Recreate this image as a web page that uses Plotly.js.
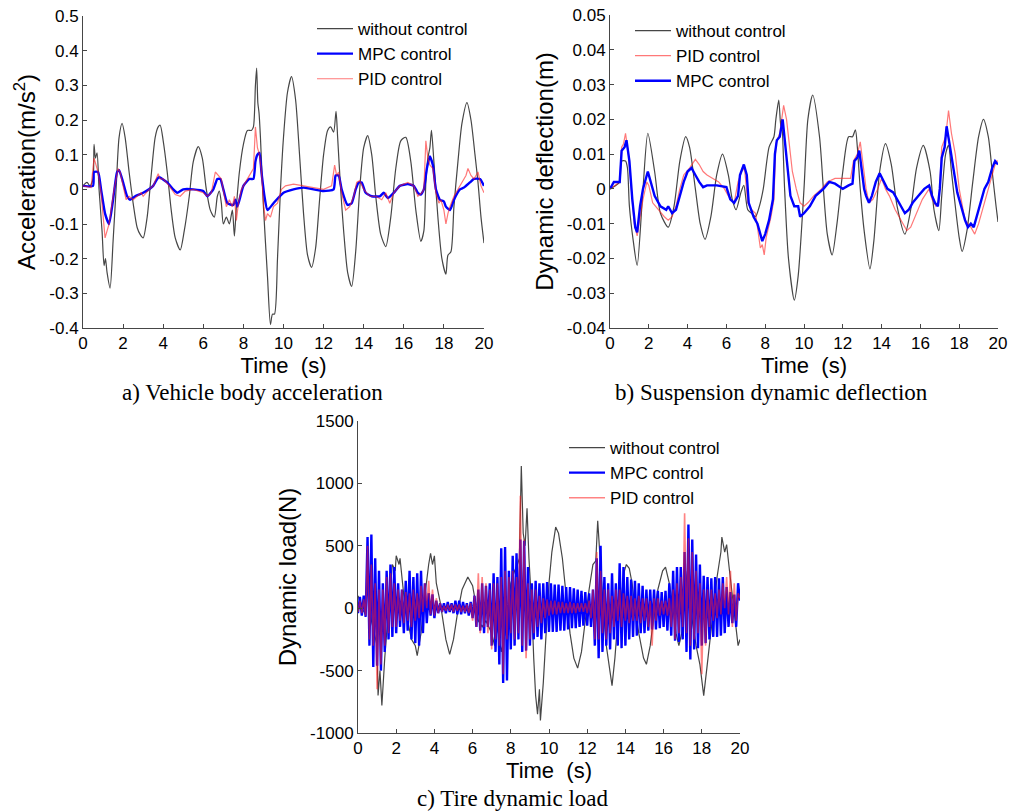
<!DOCTYPE html>
<html>
<head>
<meta charset="utf-8">
<script src="https://cdn.plot.ly/plotly-3.0.1.min.js"></script>
<style>html,body{margin:0;padding:0;background:#fff;}#chart{width:1014px;height:812px;}</style>
</head>
<body>
<div id="chart"></div>
<script>
// ---------- tick labels ----------
const xTicks = [0, 2, 4, 6, 8, 10, 12, 14, 16, 18, 20];
const xTickText = ['0', '2', '4', '6', '8', '10', '12', '14', '16', '18', '20'];
const accTicks = [0.5, 0.4, 0.3, 0.2, 0.1, 0, -0.1, -0.2, -0.3, -0.4];
const accTickText = ['0.5', '0.4', '0.3', '0.2', '0.1', '0', '-0.1', '-0.2', '-0.3', '-0.4'];
const defTicks = [0.05, 0.04, 0.03, 0.02, 0.01, 0, -0.01, -0.02, -0.03, -0.04];
const defTickText = ['0.05', '0.04', '0.03', '0.02', '0.01', '0', '-0.01', '-0.02', '-0.03', '-0.04'];
const loadTicks = [1500, 1000, 500, 0, -500, -1000];
const loadTickText = ['1500', '1000', '500', '0', '-500', '-1000'];

// ---------- a) vehicle body acceleration ----------
const accNoneT = [0,0.2,0.35,0.5,0.55,0.62,0.7,0.8,0.95,1.05,1.12,1.2,1.35,1.5,1.65,1.8,1.95,2.1,2.3,2.5,2.7,2.85,3.0,3.2,3.4,3.6,3.75,3.85,4.0,4.2,4.4,4.6,4.85,5.05,5.3,5.5,5.75,5.95,6.15,6.35,6.55,6.7,6.8,6.9,7.0,7.15,7.3,7.45,7.55,7.65,7.8,8.0,8.2,8.4,8.5,8.6,8.66,8.72,8.78,8.85,9.0,9.2,9.35,9.45,9.55,9.7,9.85,10.0,10.2,10.4,10.6,10.8,11.0,11.2,11.4,11.6,11.8,12.0,12.2,12.35,12.5,12.62,12.7,12.85,13.0,13.2,13.4,13.6,13.8,14.0,14.2,14.4,14.6,14.85,15.1,15.35,15.6,15.85,16.1,16.35,16.6,16.85,17.0,17.1,17.2,17.3,17.38,17.5,17.7,17.9,18.1,18.2,18.35,18.5,18.7,18.9,19.15,19.35,19.55,19.7,19.85,20.0];
const accNone = [0.01,0.02,0.01,0.03,0.13,0.09,0.105,0.0,-0.12,-0.22,-0.2,-0.24,-0.285,-0.15,0.0,0.15,0.19,0.15,0.05,-0.04,-0.11,-0.13,-0.14,-0.08,0.04,0.15,0.18,0.185,0.14,0.05,-0.06,-0.14,-0.175,-0.12,-0.02,0.08,0.123,0.09,0.0,-0.06,-0.08,-0.02,-0.005,-0.04,-0.1,-0.08,-0.1,-0.06,-0.135,-0.05,0.05,0.13,0.17,0.17,0.18,0.3,0.35,0.25,0.22,0.15,-0.05,-0.25,-0.39,-0.36,-0.36,-0.2,0.0,0.15,0.28,0.325,0.26,0.1,-0.07,-0.19,-0.225,-0.17,-0.03,0.1,0.17,0.18,0.165,0.225,0.15,0.0,-0.12,-0.24,-0.28,-0.18,0.0,0.12,0.155,0.1,-0.02,-0.13,-0.165,-0.08,0.06,0.14,0.15,0.08,-0.06,-0.15,-0.12,0.02,0.09,0.12,0.17,0.08,-0.08,-0.2,-0.245,-0.19,-0.18,-0.05,0.08,0.19,0.25,0.2,0.1,0.02,-0.08,-0.155];
const accMpcT = [0,0.5,0.55,0.75,0.9,1.1,1.3,1.5,1.7,1.8,2.0,2.2,2.35,2.6,3.0,3.5,3.7,3.8,4.2,4.5,4.7,5.0,5.5,6.0,6.2,6.5,6.7,6.85,7.0,7.2,7.5,7.6,7.7,8.0,8.3,8.5,8.6,8.7,8.8,8.9,9.05,9.2,9.5,10.0,10.5,11.0,12.0,12.5,12.6,12.75,12.9,13.2,13.4,13.6,13.75,13.9,14.1,14.4,14.8,15.0,15.2,15.5,15.8,16.2,16.5,16.7,16.85,17.0,17.15,17.3,17.45,17.6,17.8,18.0,18.1,18.3,18.5,18.8,19.0,19.3,19.5,19.8,20.0];
const accMpc = [0.01,0.01,0.05,0.05,0.0,-0.07,-0.1,-0.03,0.05,0.055,0.02,-0.02,-0.03,-0.02,-0.01,0.01,0.03,0.035,0.02,0.0,-0.01,0.0,0.0,-0.005,-0.02,0.0,0.03,0.03,0.0,-0.04,-0.045,-0.03,-0.05,0.01,0.03,0.03,0.08,0.1,0.105,0.05,-0.02,-0.06,-0.04,-0.01,0.0,0.005,-0.005,0.0,0.04,0.04,0.0,-0.045,-0.04,0.0,0.02,0.02,-0.01,-0.02,-0.02,-0.01,-0.025,-0.01,0.01,0.015,0.01,-0.01,-0.015,0.0,0.06,0.095,0.07,0.0,-0.03,-0.035,-0.05,-0.06,-0.03,0.0,0.005,0.02,0.03,0.03,0.01];
const accPidT = [0,0.4,0.55,0.65,0.75,0.9,1.05,1.1,1.2,1.3,1.4,1.55,1.75,1.85,2.0,2.15,2.3,2.5,2.7,2.9,3.0,3.3,3.5,3.65,3.75,3.85,4.0,4.3,4.6,4.85,5.1,5.5,6.0,6.2,6.4,6.6,6.75,6.9,7.05,7.15,7.3,7.45,7.55,7.65,7.75,7.9,8.1,8.3,8.5,8.6,8.7,8.8,8.9,9.0,9.1,9.2,9.35,9.5,9.7,9.9,10.1,10.5,11.0,11.5,12.0,12.4,12.55,12.65,12.75,12.9,13.1,13.3,13.5,13.65,13.8,14.0,14.3,14.6,14.9,15.1,15.3,15.5,15.8,16.2,16.5,16.7,16.9,17.0,17.1,17.2,17.3,17.45,17.6,17.75,17.85,18.0,18.1,18.2,18.3,18.5,18.7,18.9,19.1,19.2,19.35,19.5,19.7,19.85,20.0];
const accPid = [0.01,0.005,0.09,0.07,0.05,-0.01,-0.1,-0.14,-0.12,-0.1,-0.06,0.0,0.06,0.05,0.01,-0.03,-0.02,-0.03,-0.02,-0.01,-0.02,0.0,0.01,0.03,0.045,0.03,0.03,0.01,-0.015,-0.02,-0.005,0.0,-0.01,-0.02,-0.01,0.05,0.04,0.03,-0.02,-0.05,-0.03,-0.05,-0.02,-0.09,-0.04,0.0,0.02,0.04,0.06,0.18,0.12,0.1,0.05,-0.04,-0.09,-0.07,-0.08,-0.05,-0.04,0.0,0.01,0.015,0.01,0.005,0.0,0.01,0.07,0.04,0.05,-0.01,-0.06,-0.05,-0.02,0.02,0.025,0.0,-0.02,-0.02,-0.03,-0.01,-0.04,-0.01,0.01,0.02,0.01,-0.02,-0.01,0.0,0.14,0.09,0.07,0.06,-0.01,-0.04,-0.03,-0.06,-0.1,-0.07,-0.05,-0.02,0.0,0.02,0.04,0.06,0.04,0.03,0.05,0.01,-0.01];

// ---------- b) suspension dynamic deflection ----------
const defNoneT = [0,0.3,0.5,0.6,0.8,0.9,1.0,1.2,1.4,1.7,1.95,2.3,2.6,3.0,3.3,3.6,3.9,4.1,4.4,4.65,4.9,5.2,5.5,5.8,6.1,6.3,6.5,6.75,6.9,7.1,7.3,7.5,7.7,7.9,8.2,8.45,8.55,8.7,8.8,8.85,9.0,9.2,9.5,9.7,10.0,10.2,10.45,10.8,11.0,11.2,11.45,11.7,12.0,12.3,12.5,12.65,12.75,12.9,13.1,13.4,13.6,13.9,14.2,14.5,14.8,15.2,15.5,15.8,16.15,16.5,16.7,16.95,17.1,17.3,17.45,17.6,17.8,18.0,18.15,18.4,18.7,19.0,19.25,19.5,19.7,19.9,20.0];
const defNone = [0.0,0.001,0.002,0.008,0.008,0.006,-0.005,-0.015,-0.022,0.0,0.016,0.005,-0.007,-0.011,-0.005,0.008,0.015,0.012,0.0,-0.01,-0.0145,-0.008,0.004,0.01,0.004,-0.003,-0.006,-0.001,0.001,-0.006,-0.007,-0.008,-0.005,0.0,0.012,0.015,0.02,0.0255,0.018,0.02,0.0,-0.02,-0.032,-0.025,0.0,0.02,0.027,0.015,0.0,-0.013,-0.019,-0.01,0.005,0.015,0.015,0.017,0.012,0.0,-0.012,-0.023,-0.015,0.005,0.013,0.007,-0.005,-0.013,-0.006,0.006,0.0125,0.005,-0.006,-0.012,-0.002,0.01,0.0125,0.005,-0.005,-0.014,-0.018,-0.012,0.002,0.015,0.02,0.015,0.005,-0.005,-0.0095];
const defPidT = [0,0.5,0.6,0.7,0.8,0.95,1.1,1.25,1.4,1.55,1.7,1.9,2.0,2.2,2.5,2.8,3.0,3.2,3.4,3.6,3.8,4.1,4.4,4.6,4.8,5.0,5.3,5.6,5.9,6.1,6.4,6.6,6.85,6.95,7.1,7.3,7.5,7.65,7.75,7.85,7.95,8.05,8.3,8.45,8.55,8.75,8.95,9.1,9.25,9.4,9.6,9.8,10.0,10.2,10.5,10.9,11.2,11.6,12.0,12.4,12.55,12.75,12.9,13.05,13.2,13.35,13.55,13.8,14.0,14.2,14.4,14.7,15.0,15.3,15.5,15.8,16.1,16.45,16.6,16.8,16.95,17.1,17.3,17.45,17.6,17.8,18.0,18.3,18.6,18.8,19.0,19.3,19.6,19.8,19.9,20.0];
const defPid = [0.0,0.002,0.012,0.013,0.016,0.01,0.0,-0.01,-0.0135,-0.008,-0.003,0.002,0.001,-0.004,-0.006,-0.008,-0.009,-0.008,-0.005,0.0,0.004,0.006,0.0085,0.007,0.005,0.004,0.003,0.002,0.0,-0.002,-0.004,0.002,0.006,0.005,-0.004,-0.006,-0.007,-0.013,-0.017,-0.016,-0.019,-0.014,-0.008,-0.003,0.013,0.016,0.024,0.02,0.012,0.005,0.0,-0.004,-0.005,-0.004,-0.002,0.0,0.002,0.003,0.003,0.003,0.008,0.01,0.0135,0.006,0.0,-0.004,-0.003,0.0,0.003,0.0,-0.002,-0.006,-0.009,-0.012,-0.011,-0.007,-0.003,0.0,-0.003,-0.005,-0.004,0.012,0.015,0.0225,0.016,0.01,0.0,-0.009,-0.011,-0.013,-0.01,-0.004,0.002,0.006,0.008,0.008];
const defMpcT = [0,0.2,0.5,0.6,0.75,0.85,1.0,1.15,1.3,1.4,1.55,1.7,1.95,2.1,2.3,2.6,2.9,3.0,3.2,3.4,3.6,3.8,4.0,4.2,4.4,4.6,4.8,5.0,5.5,6.0,6.2,6.4,6.6,6.7,6.9,7.05,7.15,7.4,7.6,7.75,7.85,8.0,8.2,8.4,8.5,8.6,8.75,8.9,9.05,9.15,9.3,9.5,9.7,9.8,10.0,10.3,10.6,11.0,11.3,11.6,12.0,12.3,12.5,12.6,12.75,12.85,13.0,13.1,13.2,13.35,13.5,13.7,13.9,14.1,14.3,14.6,14.8,15.0,15.2,15.4,15.6,15.9,16.2,16.45,16.6,16.75,16.9,17.0,17.1,17.25,17.35,17.5,17.7,17.9,18.1,18.3,18.45,18.6,18.75,18.9,19.1,19.3,19.5,19.7,19.85,20.0];
const defMpc = [0.0,0.002,0.002,0.011,0.012,0.014,0.008,-0.003,-0.011,-0.0125,-0.005,0.0,0.005,0.002,-0.002,-0.005,-0.006,-0.005,-0.007,-0.006,-0.002,0.002,0.005,0.006,0.004,0.002,0.0005,0.001,0.001,0.0005,-0.003,-0.004,-0.002,0.004,0.007,0.004,-0.004,-0.008,-0.01,-0.013,-0.015,-0.013,-0.009,-0.003,0.01,0.014,0.015,0.02,0.012,0.005,-0.002,-0.005,-0.005,-0.008,-0.007,-0.005,-0.002,0.0,0.002,0.0015,0.0,0.001,0.0015,0.008,0.009,0.011,0.005,0.0,-0.002,-0.004,-0.002,0.002,0.0045,0.002,0.0,-0.001,-0.003,-0.005,-0.007,-0.006,-0.004,-0.002,0.0,0.001,-0.002,-0.004,-0.005,0.0,0.009,0.012,0.018,0.013,0.006,-0.001,-0.005,-0.009,-0.011,-0.01,-0.011,-0.008,-0.004,0.0,0.002,0.006,0.008,0.007];

// ---------- c) tire dynamic load ----------
const loadNoneT = [0,0.2,0.4,0.5,0.7,1.0,1.05,1.15,1.25,1.4,1.6,1.8,1.95,2.0,2.15,2.2,2.4,2.6,2.8,3.0,3.1,3.3,3.5,3.6,3.7,3.8,3.9,4.0,4.1,4.3,4.45,4.6,4.8,5.0,5.2,5.45,5.75,6.0,6.15,6.3,6.5,6.7,7.0,7.15,7.3,7.5,7.7,7.9,8.0,8.2,8.35,8.45,8.55,8.65,8.75,8.85,8.95,9.1,9.2,9.3,9.4,9.5,9.55,9.7,9.85,10.0,10.15,10.35,10.5,10.7,10.9,11.1,11.3,11.5,11.7,11.9,12.1,12.3,12.45,12.55,12.65,12.8,13.0,13.2,13.3,13.45,13.6,13.8,13.95,14.05,14.2,14.35,14.5,14.7,14.95,15.1,15.3,15.5,15.7,15.95,16.1,16.3,16.5,16.65,16.8,16.95,17.1,17.25,17.35,17.5,17.7,17.9,18.1,18.25,18.4,18.6,18.8,19.0,19.05,19.2,19.3,19.45,19.6,19.75,19.9,20.0];
const loadNone = [100,0,-50,400,-100,-300,-700,-500,-780,-400,0,350,300,420,350,400,100,-100,-250,-300,-380,-200,100,250,350,440,350,420,200,50,-100,-250,-370,-250,-50,150,250,180,50,-100,-150,-100,-200,-300,-150,-350,-200,0,200,300,350,400,1140,600,500,800,400,0,-400,-700,-850,-650,-900,-600,-200,200,450,650,600,400,100,-200,-400,-480,-350,-100,150,350,380,700,450,100,-300,-500,-620,-400,-100,100,300,350,320,200,0,-200,-400,-450,-300,-50,150,300,330,200,0,-200,-300,-200,100,300,200,-100,-300,-450,-700,-500,-300,-50,250,450,570,450,510,300,100,-50,-300,-250];
// sampled every 0.1 s from 0 to 20 s
const loadMpc = [
  -40, 90, -60, 100, -70, 570, -300, 590, -470, 400,
  -460, 300, -500, 200, -350, 300, -250, 350, -230, 330,
  -200, 200, -150, 150, -200, 220, -180, 300, -250, 250,
  -280, 280, -300, 300, -200, 200, -120, 120, -60, 110,
  -80, 60, -40, 40, -30, 40, -40, 50, -30, 40,
  -40, 60, -50, 60, -50, 50, -40, 40, -60, 50,
  -80, 100, -150, 150, -180, 200, -200, 180, -150, 200,
  -300, 280, -350, 250, -450, 480, -600, 490, -580, 300,
  -330, 420, -300, 440, -250, 550, -350, 540, -340, 330,
  -300, 200, -250, 220, -230, 200, -250, 200, -200, 210,
  -190, 200, -190, 190, -190, 190, -180, 180, -180, 170,
  -170, 170, -160, 160, -160, 150, -150, 140, -140, 130,
  -140, 120, -150, 150, -300, 400, -400, 500, -350, 250,
  -300, 200, -330, 280, -250, 200, -300, 360, -320, 330,
  -300, 250, -250, 230, -230, 220, -220, 200, -200, 180,
  -200, 150, -180, 150, -170, 150, -170, 140, -160, 130,
  -150, 140, -180, 200, -220, 300, -260, 330, -270, 330,
  -250, 450, -350, 670, -410, 550, -330, 430, -320, 350,
  -300, 260, -280, 250, -250, 240, -230, 250, -230, 240,
  -220, 250, -200, 170, -150, 130, -120, 110, -150, 200,
  60];
const loadPid = [
  -30, 60, -40, 70, -60, 500, -250, 350, -300, 200,
  -650, 150, -450, 150, -300, 250, -200, 280, -150, 200,
  -150, 150, -100, 150, -120, 130, -100, 120, -150, 150,
  -100, 120, -80, 180, -30, 200, 0, 220, -50, 150,
  -60, 80, -40, 40, -30, 20, -20, 30, -20, 30,
  -30, 30, -20, 30, -30, 20, -30, 30, -40, 40,
  -100, 100, -150, 280, -200, 250, -150, 200, -200, 150,
  -330, 200, -250, 200, -300, 250, -530, 300, -250, 250,
  -200, 300, -250, 250, -200, 900, -300, 550, -400, 200,
  -250, 150, -200, 150, -150, 100, -120, 80, -80, 70,
  -60, 60, -50, 60, -50, 50, -40, 50, -40, 40,
  -40, 50, -40, 40, -40, 40, -30, 40, -30, 40,
  -40, 60, -80, 150, -250, 450, -250, 300, -200, 150,
  -250, 150, -200, 100, -150, 150, -100, 150, -150, 120,
  -100, 100, -120, 100, -100, 80, -100, 100, -120, 80,
  -100, 80, -150, 60, -300, 80, -100, 80, -60, 60,
  -50, 60, -60, 80, -150, 150, -250, 200, -200, 250,
  -150, 760, -200, 560, -300, 450, -250, 300, -200, 200,
  -530, 150, -300, 150, -150, 150, -100, 120, -80, 150,
  -50, 200, 0, 250, -50, 300, -150, 200, -100, 120,
  80];

// ---------- styles ----------
const GREY = 'rgb(70,70,70)';
const BLUE = 'rgb(0,0,255)';
const RED = 'rgba(255,30,30,0.6)';
const SANS = 'Liberation Sans, Arial, sans-serif';
const SERIF = 'Liberation Serif, Times New Roman, serif';

const traces = [
  {x: accNoneT, y: accNone, name: 'without control', xaxis: 'x', yaxis: 'y', mode: 'lines', line: {color: GREY, width: 1.2, shape: 'spline', smoothing: 0.7}, legend: 'legend'},
  {x: accMpcT, y: accMpc, name: 'MPC control', xaxis: 'x', yaxis: 'y', mode: 'lines', line: {color: BLUE, width: 2.4, shape: 'spline', smoothing: 0.5}, legend: 'legend'},
  {x: accPidT, y: accPid, name: 'PID control', xaxis: 'x', yaxis: 'y', mode: 'lines', line: {color: RED, width: 1.2}, legend: 'legend'},

  {x: defNoneT, y: defNone, name: 'without control', xaxis: 'x2', yaxis: 'y2', mode: 'lines', line: {color: GREY, width: 1.2, shape: 'spline', smoothing: 0.7}, legend: 'legend2'},
  {x: defPidT, y: defPid, name: 'PID control', xaxis: 'x2', yaxis: 'y2', mode: 'lines', line: {color: RED, width: 1.2}, legend: 'legend2'},
  {x: defMpcT, y: defMpc, name: 'MPC control', xaxis: 'x2', yaxis: 'y2', mode: 'lines', line: {color: BLUE, width: 2.4}, legend: 'legend2'},

  {x: loadNoneT, y: loadNone, name: 'without control', xaxis: 'x3', yaxis: 'y3', mode: 'lines', line: {color: GREY, width: 1.2}, legend: 'legend3'},
  {x0: 0, dx: 0.1, y: loadMpc, name: 'MPC control', xaxis: 'x3', yaxis: 'y3', mode: 'lines', line: {color: BLUE, width: 2.4}, legend: 'legend3'},
  {x0: 0, dx: 0.1, y: loadPid, name: 'PID control', xaxis: 'x3', yaxis: 'y3', mode: 'lines', line: {color: 'rgba(255,30,30,0.55)', width: 1.6}, legend: 'legend3'}
];

function xAx(domain, anchor) {
  return {
    domain: domain, anchor: anchor, range: [0, 20],
    tickvals: xTicks, ticktext: xTickText,
    ticks: 'inside', ticklen: 4, tickcolor: GREY, tickwidth: 1,
    showline: true, linecolor: GREY, linewidth: 1, mirror: false,
    showgrid: false, zeroline: false,
    tickfont: {family: SANS, size: 17, color: '#000'},
    title: {text: 'Time\u00a0\u00a0(s)', font: {family: SANS, size: 22, color: '#000'}, standoff: 0}
  };
}
function yAx(domain, anchor, range, vals, txt, title) {
  return {
    domain: domain, anchor: anchor, range: range,
    tickvals: vals, ticktext: txt,
    ticks: 'inside', ticklen: 4, tickcolor: GREY, tickwidth: 1,
    showline: true, linecolor: GREY, linewidth: 1, mirror: false,
    showgrid: false, zeroline: false,
    tickfont: {family: SANS, size: 17, color: '#000'},
    title: {text: title, font: {family: SANS, size: 24, color: '#000'}, standoff: 6}
  };
}
function leg(x, y) {
  return {x: x, y: y, xanchor: 'left', yanchor: 'top', bgcolor: 'rgba(0,0,0,0)', borderwidth: 0,
    font: {family: SANS, size: 17, color: '#000'}, itemwidth: 36, tracegroupgap: 0, traceorder: 'normal'};
}

const layout = {
  width: 1014, height: 812,
  margin: {l: 0, r: 0, t: 0, b: 0},
  paper_bgcolor: '#fff', plot_bgcolor: '#fff',
  showlegend: true,
  xaxis: xAx([83/1014, 484/1014], 'y'),
  yaxis: yAx([1 - 328/812, 1 - 16/812], 'x', [-0.4, 0.5], accTicks, accTickText, 'Acceleration(m/s<sup>2</sup>)'),
  xaxis2: xAx([610/1014, 998/1014], 'y2'),
  yaxis2: yAx([1 - 328/812, 1 - 15/812], 'x2', [-0.04, 0.05], defTicks, defTickText, 'Dynamic deflection(m)'),
  xaxis3: xAx([358/1014, 740/1014], 'y3'),
  yaxis3: yAx([1 - 733/812, 1 - 421/812], 'x3', [-1000, 1500], loadTicks, loadTickText, 'Dynamic load(N)'),
  legend: leg(312/1014, 1 - 11/812),
  legend2: leg(630/1014, 1 - 13/812),
  legend3: leg(564/1014, 1 - 430/812),
  annotations: [
    {text: 'a) Vehicle body acceleration', xref: 'paper', yref: 'paper', x: 252/1014, y: 1 - 392/812, xanchor: 'center', yanchor: 'middle', showarrow: false, font: {family: SERIF, size: 23, color: '#000'}},
    {text: 'b) Suspension dynamic deflection', xref: 'paper', yref: 'paper', x: 771/1014, y: 1 - 392/812, xanchor: 'center', yanchor: 'middle', showarrow: false, font: {family: SERIF, size: 23, color: '#000'}},
    {text: 'c) Tire dynamic load', xref: 'paper', yref: 'paper', x: 512/1014, y: 1 - 798/812, xanchor: 'center', yanchor: 'middle', showarrow: false, font: {family: SERIF, size: 23, color: '#000'}}
  ]
};

Plotly.newPlot('chart', traces, layout, {staticPlot: true, displayModeBar: false});
</script>
</body>
</html>
